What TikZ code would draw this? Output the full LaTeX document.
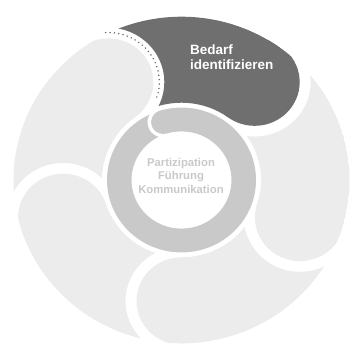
\documentclass[tikz,border=0pt]{standalone}
\usepackage{fontspec}
\setmainfont{Liberation Sans}
\begin{document}
\begin{tikzpicture}[x=1pt,y=1pt,
  segfill/.style={fill=segLight},
  activefill/.style={fill=segDark},
  ringfill/.style={fill=ringGray},
  dotline/.style={draw=segDark!85!black, line width=1.6pt, line cap=round, dash pattern=on 0pt off 4.4pt},
  steplabel/.style={font=\bfseries\fontsize{13.5}{15}\selectfont, text=white, align=left, inner sep=0pt},
  corelabel/.style={font=\bfseries\fontsize{11.3}{13.5}\selectfont, text=ringGray, align=center, inner sep=0pt}]
\definecolor{segLight}{RGB}{236,236,236}
\definecolor{segDark}{RGB}{111,111,111}
\definecolor{ringGray}{RGB}{200,201,200}
\useasboundingbox (-181.5,-165) rectangle (173.5,180);
\begin{scope}[yscale=0.972]
  % five comma-shaped phases: a band sector capped by a round head,
  % with a notch cut around the head of the preceding phase
  \foreach \k in {0,...,4} {
    \pgfmathsetmacro\ph{54-72*\k}
    \pgfmathsetmacro\pv{\ph+72}
    \begin{scope}
      \clip (0,0) circle (168);
      \clip (-200,-200) -- (-200,200) -- (200,200) -- (200,-200) -- cycle
            (\pv:124.5) circle (56);
      \ifnum\k=0 \def\phstyle{activefill}\else \def\phstyle{segfill}\fi
      \path[\phstyle] (\ph:168) arc[start angle=\ph, end angle=\pv, radius=168]
            -- (\pv:79.5) arc[start angle=\pv, end angle=\ph, radius=79.5] -- cycle;
      \path[\phstyle] (\ph:124.5) circle (45);
    \end{scope}
  }
  % dotted trace along the notch of the active phase
  \draw[dotline] (126:124.5) ++(93:51) arc[start angle=93, end angle=-22, radius=51];
  % inner ring with a rounded start and a notched end
  \fill[ringfill, even odd rule] (0,0) circle (74.5) (0,0) circle (50);
  \begin{scope}
    \clip (107:200) -- (197:200) -- (287:200) -- cycle;
    \fill[white] (107:62.25) circle (15.75);
  \end{scope}
  \fill[ringfill] (107:62.25) circle (12.25);
\end{scope}
% multi-line labels are anchored at the baseline of their last line
\node[steplabel, anchor=base west] (step) at (8.5,110) {Bedarf\\identifizieren};
\node[corelabel, anchor=base] (core) at (-0.5,-13) {Partizipation\\Führung\\Kommunikation};
\end{tikzpicture}
\end{document}
